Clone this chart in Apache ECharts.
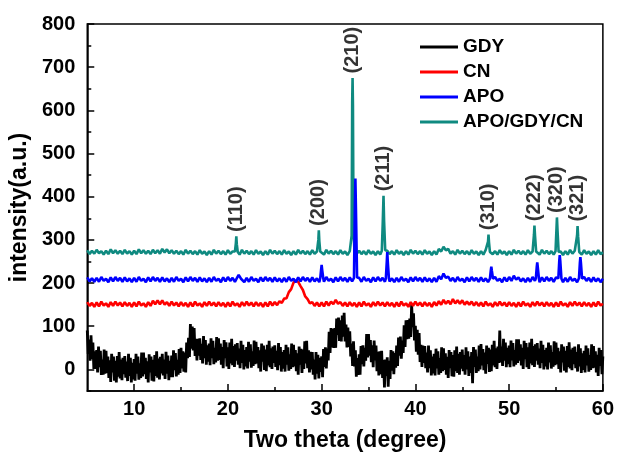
<!DOCTYPE html>
<html><head><meta charset="utf-8">
<script src="https://cdn.jsdelivr.net/npm/echarts@6/dist/echarts.min.js"></script>
<style>html,body{margin:0;padding:0;background:#fff}#c{width:617px;height:457px}</style>
</head><body><div id="c"></div>
<script>
// ---- axes / ticks ----
const xMin = 5, xMax = 60, yMin = -50, yMax = 800;
const xMajorTicks = [10, 20, 30, 40, 50, 60];
const xMinorTicks = [15, 25, 35, 45, 55];
const yMajorTicks = [0, 100, 200, 300, 400, 500, 600, 700, 800];
const yMinorTicks = [-50, 50, 150, 250, 350, 450, 550, 650, 750];
const seriesNames = ['GDY', 'CN', 'APO', 'APO/GDY/CN'];

// ---- GDY: 0.1 degree step, 5.0 .. 60.0 ----
const gdyStart = 5, gdyStep = 0.1;
const gdyValues = [
 90,36,69,20,79,24,62,1,42,1,
 45,-7,53,5,43,-13,23,-12,46,-10,
 43,-8,30,-20,21,-29,36,-7,30,-26,
 20,-30,31,-17,40,-21,23,-25,27,-11,
 31,-19,18,-27,36,-15,27,-30,15,-23,
 24,-26,36,-10,30,-24,14,-20,39,-16,
 39,-11,27,-22,19,-30,35,-7,30,-26,
 22,-28,33,-15,42,-19,25,-23,29,-9,
 36,-14,23,-22,41,-10,32,-25,20,-18,
 32,-18,44,-2,38,-16,22,-12,47,-8,
 50,2,42,-5,39,-7,62,26,73,29,
 105,48,99,44,96,31,71,21,71,32,
 72,22,59,14,77,26,68,11,56,18,
 60,10,72,26,66,12,50,16,75,20,
 72,22,60,11,52,3,68,26,63,7,
 51,1,62,14,71,10,54,6,58,20,
 61,11,48,3,66,15,57,0,45,7,
 52,2,64,18,58,4,42,8,67,12,
 64,14,52,3,44,-5,60,18,55,-1,
 46,-4,57,9,66,5,49,1,53,15,
 56,6,43,-2,61,10,52,-5,40,2,
 45,-5,57,11,51,-3,35,1,60,5,
 57,7,45,-4,37,-12,53,11,48,-8,
 46,1,65,14,66,3,44,-7,41,0,
 40,-12,23,-23,40,-10,34,-21,27,-6,
 30,-18,47,6,51,2,48,21,87,38,
 96,51,94,50,96,50,118,80,120,66,
 114,65,125,76,131,65,104,51,97,52,
 88,30,60,8,65,7,44,-17,26,-13,
 35,-12,54,12,56,7,50,20,82,28,
 82,32,68,17,56,5,67,21,55,-4,
 41,-14,42,-11,43,-20,22,-42,23,-15,
 28,-40,20,-22,45,-3,42,-11,38,4,
 55,8,74,32,76,25,67,38,102,52,
 114,70,114,71,118,75,150,98,130,67,
 101,41,92,34,84,17,57,6,55,15,
 54,3,39,-7,55,3,44,-14,30,-9,
 36,-14,48,2,42,-12,26,-8,51,-4,
 49,-1,37,-12,29,-20,45,3,40,-16,
 33,-17,44,-4,53,-8,36,-12,40,2,
 46,-4,33,-12,51,0,42,-15,30,-8,
 40,-32,52,6,46,-8,30,-4,55,0,
 59,9,47,-2,39,-10,55,13,50,-6,
 46,-4,57,9,66,5,49,1,53,15,
 90,16,53,8,71,20,62,5,50,12,
 55,5,67,21,61,7,45,11,70,15,
 70,20,58,9,50,1,66,24,61,5,
 51,1,62,14,71,10,54,6,58,20,
 61,11,48,3,66,15,57,0,45,7,
 50,0,62,16,56,2,40,6,65,10,
 62,12,50,1,42,-7,58,16,53,-3,
 43,-7,54,6,63,2,46,-2,50,12,
 53,3,40,-5,58,7,49,-8,37,-1,
 43,-7,55,9,49,-5,33,-1,58,3,
 54,4,42,-7,34,-15,50,8,45,-11,
 30
];

// ---- CN / APO / APO-GDY-CN baselines: 0.25 degree step, 5.00 .. 60.00 ----
const baseStart = 5, baseStep = 0.25;
const cnValues = [
 156,147,154,145, 155,146,157,148, 153,145,156,147, 157,148,155,146,
 156,147,154,145, 155,146,157,148, 153,145,156,147, 159,151,160,151,
 160,150,156,147, 157,148,155,146, 156,147,154,145, 155,146,157,148,
 153,145,156,147, 157,148,155,146, 156,147,154,145, 155,146,157,148,
 153,145,156,147, 157,148,155,146, 156,147,154,145, 155,146,157,148,
 156,149,158,154, 164,165,179,186, 201,205,203,193, 184,169,163,153,
 156,147,155,146, 155,146,157,148, 157,151,161,152, 156,147,155,146,
 156,147,154,145, 155,146,157,148, 153,145,156,147, 157,148,155,146,
 156,147,154,145, 155,146,157,148, 153,145,156,147, 157,148,155,146,
 156,147,154,145, 156,148,158,150, 161,152,159,151, 163,153,160,152,
 160,150,157,150, 157,148,156,147, 155,146,157,148, 153,145,156,147,
 157,148,155,146, 156,147,154,145, 155,146,157,148, 153,145,156,147,
 157,148,155,146, 156,147,154,145, 155,146,157,148, 153,145,156,147,
 157,148,155,146, 156,147,154,145, 155,146,157,148,
 152
];
const apoValues = [
 213,204,211,203, 212,203,214,205, 210,202,213,204, 214,205,212,203,
 213,204,211,202, 212,203,214,205, 210,202,213,204, 214,205,212,203,
 213,204,211,202, 212,203,214,205, 210,202,213,204, 214,205,212,203,
 213,204,211,202, 212,203,214,205, 210,202,213,204, 214,205,212,203,
 213,204,211,202, 212,203,214,205, 210,202,213,204, 214,205,212,203,
 213,204,211,202, 212,203,214,205, 210,202,213,204, 214,205,212,203,
 213,204,211,202, 212,203,214,205, 210,202,213,204, 214,205,212,203,
 213,204,211,202, 212,203,214,205, 210,202,213,204, 214,205,212,203,
 213,204,211,202, 212,203,214,205, 210,202,213,204, 214,205,212,203,
 213,204,211,202, 212,203,216,209, 222,212,215,205, 212,203,214,205,
 210,202,213,204, 214,205,212,203, 213,204,211,202, 212,203,214,205,
 210,202,213,204, 214,205,217,208, 213,204,211,202, 212,203,214,205,
 210,202,213,204, 214,205,212,203, 213,204,211,202, 212,203,214,205,
 210,202,213,204, 214,205,212,203, 213,204,211,202,
 210
];
const compValues = [
 276,267,275,268, 277,269,274,266, 275,267,278,269, 276,268,275,267,
 277,268,274,266, 275,267,278,269, 276,268,275,267, 277,269,276,268,
 279,271,278,269, 276,268,275,267, 274,266,277,268, 275,267,274,266,
 276,268,273,265, 274,266,277,268, 275,267,274,266, 276,268,273,265,
 274,266,277,268, 275,267,274,266, 276,268,273,265, 274,266,277,268,
 275,267,274,266, 276,268,273,265, 274,266,277,268, 275,267,274,266,
 276,268,273,265, 274,266,277,268, 275,267,274,266, 276,268,273,265,
 274,266,277,268, 275,267,274,266, 276,268,273,265, 274,266,277,268,
 275,267,274,266, 276,268,273,265, 274,266,277,268, 275,267,274,266,
 276,268,273,265, 274,266,279,273, 284,276,279,268, 274,266,277,268,
 275,267,274,266, 276,268,273,265, 274,266,277,268, 275,267,274,266,
 276,268,273,265, 274,266,277,268, 275,267,274,266, 276,268,273,265,
 274,266,277,268, 275,267,274,266, 276,268,273,265, 274,266,277,268,
 275,267,274,266, 276,268,273,265, 274,266,276,267,
 271
];

// ---- sharp reflections: [two theta, intensity] ----
const apoPeaks = [
 [[21.05,211],[21.15,219],[21.2,222],[21.27,218],[21.4,210]],
 [[29.85,211],[29.95,232],[30.0,242],[30.06,230],[30.18,210]],
 [[33.45,212],[33.55,380],[33.6,442],[33.66,370],[33.78,213]],
 [[36.85,211],[36.95,250],[37.0,272],[37.06,248],[37.18,210]],
 [[47.95,210],[48.05,230],[48.1,238],[48.16,228],[48.28,210]],
 [[52.85,211],[52.95,238],[53.0,248],[53.06,236],[53.18,210]],
 [[55.25,211],[55.35,252],[55.4,265],[55.46,250],[55.58,210]],
 [[57.45,211],[57.55,248],[57.6,260],[57.66,246],[57.78,210]]
];
const compPeaks = [
 [[20.75,273],[20.85,292],[20.9,308],[20.95,290],[21.05,272]],
 [[29.55,274],[29.65,300],[29.7,322],[29.75,298],[29.85,273]],
 [[33.1,276],[33.2,310],[33.26,620],[33.3,675],[33.34,610],[33.4,320],[33.5,275]],
 [[36.42,275],[36.52,340],[36.6,402],[36.66,345],[36.78,276]],
 [[47.65,273],[47.75,296],[47.8,312],[47.85,295],[47.95,272]],
 [[52.55,274],[52.65,312],[52.7,333],[52.76,310],[52.88,273]],
 [[54.95,274],[55.05,325],[55.1,352],[55.16,322],[55.28,272]],
 [[57.15,273],[57.25,310],[57.3,332],[57.36,308],[57.48,272]]
];

// ---- reflection labels ----
const hklLabels = ['(110)', '(200)', '(210)', '(211)', '(310)', '(222)', '(320)', '(321)'];
const hklX = [20.9, 29.7, 33.3, 36.6, 47.8, 52.7, 55.1, 57.3];
const hklY = [308, 322, 675, 402, 312, 333, 352, 332];

// ---- build point lists ----
function uniform(values, start, step) {
  return values.map((v, i) => [+(start + i * step).toFixed(3), v]);
}
function withPeaks(base, peaks) {
  let pts = base.filter(p => !peaks.some(g => p[0] >= g[0][0] - 0.01 && p[0] <= g[g.length - 1][0] + 0.01));
  peaks.forEach(g => g.forEach(p => pts.push(p)));
  pts.sort((a, b) => a[0] - b[0]);
  return pts;
}
const gdyData = uniform(gdyValues, gdyStart, gdyStep);
const cnData = uniform(cnValues, baseStart, baseStep);
const apoData = withPeaks(uniform(apoValues, baseStart, baseStep), apoPeaks);
const compData = withPeaks(uniform(compValues, baseStart, baseStep), compPeaks);
const labelData = hklX.map((x, i) => ({ value: [x, hklY[i]], name: hklLabels[i] }));

const FONT = "Arial, 'Liberation Sans', sans-serif";
const chart = echarts.init(document.getElementById('c'), null, { renderer: 'canvas' });
const lineSeries = (name, data, color, z, w) => ({
  name, type: 'line', data, xAxisIndex: 0, yAxisIndex: 0,
  showSymbol: false, symbol: 'none', smooth: false, z,
  lineStyle: { color, width: w }, itemStyle: { color },
  emphasis: { disabled: true }, animation: false
});

chart.setOption({
  backgroundColor: '#fff',
  animation: false,
  grid: { left: 87, right: 13, top: 24, bottom: 61, show: true, borderColor: '#000', borderWidth: 1.5, backgroundColor: 'transparent' },
  legend: {
    data: seriesNames, orient: 'vertical', left: 420, top: 37, padding: 0,
    itemWidth: 38, itemHeight: 3, itemGap: 5, icon: 'rect',
    textStyle: { fontFamily: FONT, fontSize: 19, fontWeight: 'bold', color: '#000', lineHeight: 20 }
  },
  xAxis: [
    {
      type: 'value', min: xMin, max: xMax, position: 'bottom',
      name: 'Two theta (degree)', nameLocation: 'middle', nameGap: 38,
      nameTextStyle: { fontFamily: FONT, fontSize: 23, fontWeight: 'bold', color: '#000' },
      axisLine: { onZero: false, lineStyle: { color: '#000', width: 1.5 } },
      axisTick: { inside: true, length: 7, customValues: xMajorTicks, lineStyle: { color: '#000', width: 1.5 } },
      axisLabel: { customValues: xMajorTicks, fontFamily: FONT, fontSize: 20, fontWeight: 'bold', color: '#000', margin: 8 },
      splitLine: { show: false }
    },
    {
      type: 'value', min: xMin, max: xMax, position: 'bottom',
      axisLine: { show: false, onZero: false },
      axisTick: { inside: true, length: 4, customValues: xMinorTicks, lineStyle: { color: '#000', width: 1.5 } },
      axisLabel: { show: false }, splitLine: { show: false }
    }
  ],
  yAxis: [
    {
      type: 'value', min: yMin, max: yMax, position: 'left',
      name: 'intensity(a.u.)', nameLocation: 'middle', nameGap: 52,
      nameTextStyle: { fontFamily: FONT, fontSize: 23, fontWeight: 'bold', color: '#000' },
      axisLine: { onZero: false, lineStyle: { color: '#000', width: 1.5 } },
      axisTick: { inside: true, length: 7, customValues: yMajorTicks, lineStyle: { color: '#000', width: 1.5 } },
      axisLabel: { customValues: yMajorTicks, fontFamily: FONT, fontSize: 20, fontWeight: 'bold', color: '#000', margin: 12 },
      splitLine: { show: false }
    },
    {
      type: 'value', min: yMin, max: yMax, position: 'left',
      axisLine: { show: false, onZero: false },
      axisTick: { inside: true, length: 4, customValues: yMinorTicks, lineStyle: { color: '#000', width: 1.5 } },
      axisLabel: { show: false }, splitLine: { show: false }
    }
  ],
  series: [
    lineSeries('GDY', gdyData, '#000000', 2, 2.8),
    lineSeries('CN', cnData, '#ff0000', 3, 2.6),
    lineSeries('APO/GDY/CN', compData, '#0f8a80', 4, 2.6),
    lineSeries('APO', apoData, '#0000ff', 5, 2.6),
    {
      type: 'scatter', data: labelData, xAxisIndex: 0, yAxisIndex: 0,
      symbolSize: 1, itemStyle: { color: 'rgba(0,0,0,0)' }, silent: true, z: 6,
      label: {
        show: true, position: 'top', distance: 4, rotate: 90, align: 'left', verticalAlign: 'middle',
        formatter: p => p.name, fontFamily: FONT, fontSize: 20, fontWeight: 'bold', color: '#000'
      }
    }
  ]
});
</script></body></html>
